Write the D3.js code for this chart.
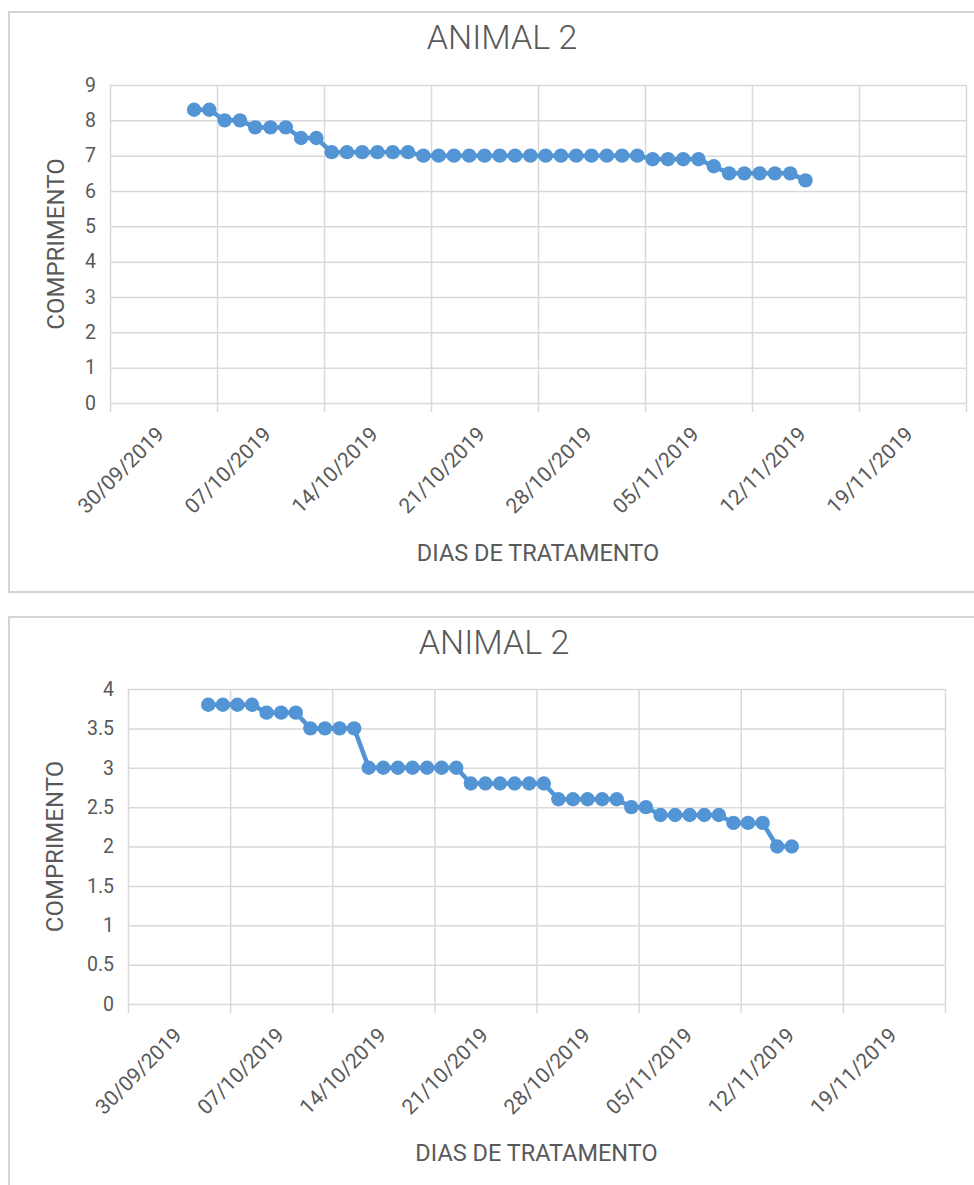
<!DOCTYPE html>
<html>
<head>
<meta charset="utf-8">
<script src="https://cdn.jsdelivr.net/npm/d3@7"></script>
<style>
  html, body { margin: 0; padding: 0; background: #ffffff; }
  svg { display: block; }
  text { font-family: Roboto, "Open Sans", "Noto Sans", sans-serif; fill: #595959; }
</style>
</head>
<body>
<svg id="page" width="974" height="1185"></svg>
<script>
// Measurement days (one reading per day)
const days = [
  "2019-10-05","2019-10-06","2019-10-07","2019-10-08","2019-10-09","2019-10-10","2019-10-11",
  "2019-10-12","2019-10-13","2019-10-14","2019-10-15","2019-10-16","2019-10-17","2019-10-18",
  "2019-10-19","2019-10-20","2019-10-21","2019-10-22","2019-10-23","2019-10-24","2019-10-25",
  "2019-10-26","2019-10-27","2019-10-28","2019-10-29","2019-10-30","2019-10-31","2019-11-01",
  "2019-11-02","2019-11-03","2019-11-04","2019-11-05","2019-11-06","2019-11-07","2019-11-08",
  "2019-11-09","2019-11-10","2019-11-11","2019-11-12","2019-11-13","2019-11-14"
];

// Length readings, first chart
const lengthA = [
  8.3, 8.3, 8.0, 8.0, 7.8, 7.8, 7.8, 7.5, 7.5, 7.1, 7.1, 7.1, 7.1, 7.1, 7.1,
  7.0, 7.0, 7.0, 7.0, 7.0, 7.0, 7.0, 7.0, 7.0, 7.0, 7.0, 7.0, 7.0, 7.0, 7.0,
  6.9, 6.9, 6.9, 6.9, 6.7, 6.5, 6.5, 6.5, 6.5, 6.5, 6.3
];

// Length readings, second chart
const lengthB = [
  3.8, 3.8, 3.8, 3.8, 3.7, 3.7, 3.7, 3.5, 3.5, 3.5, 3.5,
  3.0, 3.0, 3.0, 3.0, 3.0, 3.0, 3.0,
  2.8, 2.8, 2.8, 2.8, 2.8, 2.8, 2.6, 2.6, 2.6, 2.6, 2.6,
  2.5, 2.5, 2.4, 2.4, 2.4, 2.4, 2.4, 2.3, 2.3, 2.3, 2.0, 2.0
];

// Axis ticks
const yTicksA = [0, 1, 2, 3, 4, 5, 6, 7, 8, 9];
const yTicksB = [0, 0.5, 1, 1.5, 2, 2.5, 3, 3.5, 4];
const dateTickLabels = [
  "30/09/2019", "07/10/2019", "14/10/2019", "21/10/2019",
  "28/10/2019", "05/11/2019", "12/11/2019", "19/11/2019"
];
const axisStart = "2019-09-30";
const axisEnd = "2019-11-25";

const titleText = "ANIMAL 2";
const xTitle = "DIAS DE TRATAMENTO";
const yTitle = "COMPRIMENTO";

const parseDay = d3.utcParse("%Y-%m-%d");
const HALF_DAY = 12 * 3600 * 1000;

const panels = [
  { values: lengthA, yTicks: yTicksA, yMax: 9,
    frame: { x: 9, y: 12, w: 1000, h: 580 },
    plot: { l: 110, r: 966, t: 85, b: 403 },
    titleX: 502, titleY: 49, yTitleX: 56, xTitleY: 561 },
  { values: lengthB, yTicks: yTicksB, yMax: 4,
    frame: { x: 9, y: 617, w: 1000, h: 600 },
    plot: { l: 128, r: 945, t: 689, b: 1004 },
    titleX: 494, titleY: 654, yTitleX: 55, xTitleY: 1161 }
];

const svg = d3.select("#page");
const blue = "#5395d4";
const grid = "#d9d9d9";

panels.forEach(p => {
  const g = svg.append("g");

  // chart frame
  g.append("rect")
    .attr("x", p.frame.x).attr("y", p.frame.y)
    .attr("width", p.frame.w).attr("height", p.frame.h)
    .attr("fill", "#ffffff").attr("stroke", "#d4d4d4").attr("stroke-width", 2);

  const x = d3.scaleUtc()
    .domain([parseDay(axisStart), parseDay(axisEnd)])
    .range([p.plot.l, p.plot.r]);
  const y = d3.scaleLinear()
    .domain([0, p.yMax])
    .range([p.plot.b, p.plot.t]);

  const weekTicks = d3.utcDay.range(parseDay(axisStart), d3.utcDay.offset(parseDay(axisEnd), 1), 7);

  // vertical gridlines with short outside ticks
  const xGrid = d3.axisBottom(x)
    .tickValues(weekTicks)
    .tickSizeInner(-(p.plot.b - p.plot.t))
    .tickSizeOuter(0)
    .tickFormat("");
  const gx = g.append("g").attr("transform", `translate(0,${p.plot.b})`).call(xGrid);
  gx.select(".domain").remove();
  gx.selectAll(".tick line").attr("stroke", grid).attr("stroke-width", 1.5);

  const xTickMarks = d3.axisBottom(x)
    .tickValues(weekTicks)
    .tickSizeInner(9)
    .tickSizeOuter(0)
    .tickFormat("");
  const gt = g.append("g").attr("transform", `translate(0,${p.plot.b})`).call(xTickMarks);
  gt.select(".domain").remove();
  gt.selectAll(".tick line").attr("stroke", grid).attr("stroke-width", 1.5);

  // horizontal gridlines and value labels
  const yAxis = d3.axisLeft(y)
    .tickValues(p.yTicks)
    .tickSizeInner(-(p.plot.r - p.plot.l))
    .tickSizeOuter(0)
    .tickPadding(14)
    .tickFormat(d => String(d));
  const gy = g.append("g").attr("transform", `translate(${p.plot.l},0)`).call(yAxis);
  gy.select(".domain").remove();
  gy.selectAll(".tick line").attr("stroke", grid).attr("stroke-width", 1.5);
  gy.selectAll(".tick text")
    .attr("font-family", "Roboto, sans-serif")
    .attr("font-size", 19.5).attr("fill", "#595959");

  // rotated date labels, centred on each labelled day
  const cap = 15, k = Math.SQRT1_2;
  weekTicks.slice(0, dateTickLabels.length).forEach((t, i) => {
    const cx = x(new Date(+t + HALF_DAY));
    const txt = g.append("text")
      .attr("font-size", 21)
      .attr("text-anchor", "end")
      .text(dateTickLabels[i]);
    const L = txt.node().getComputedTextLength();
    const px = cx + k * (L + cap) / 2 + 3;
    const py = p.plot.b + 22 + k * cap;
    txt.attr("transform", `translate(${px},${py}) rotate(-45)`);
  });

  // series line and markers
  const pts = p.values.map((v, i) => ({ date: new Date(+parseDay(days[i]) + HALF_DAY), v }));
  const line = d3.line().x(d => x(d.date)).y(d => y(d.v));
  g.append("path").datum(pts)
    .attr("d", line)
    .attr("fill", "none").attr("stroke", blue)
    .attr("stroke-width", 4.5).attr("stroke-linejoin", "round");
  g.selectAll("circle.pt").data(pts).enter().append("circle")
    .attr("class", "pt")
    .attr("cx", d => x(d.date)).attr("cy", d => y(d.v))
    .attr("r", 7.2).attr("fill", blue);

  // titles
  g.append("text")
    .attr("x", p.titleX).attr("y", p.titleY)
    .attr("text-anchor", "middle")
    .attr("font-size", 34).attr("font-weight", 300)
    .text(titleText);
  g.append("text")
    .attr("x", (p.plot.l + p.plot.r) / 2).attr("y", p.xTitleY)
    .attr("text-anchor", "middle")
    .attr("font-size", 23.5)
    .text(xTitle);
  g.append("text")
    .attr("transform", `translate(${p.yTitleX + 8},${(p.plot.t + p.plot.b) / 2}) rotate(-90)`)
    .attr("text-anchor", "middle")
    .attr("font-size", 24)
    .text(yTitle);
});
</script>
</body>
</html>
